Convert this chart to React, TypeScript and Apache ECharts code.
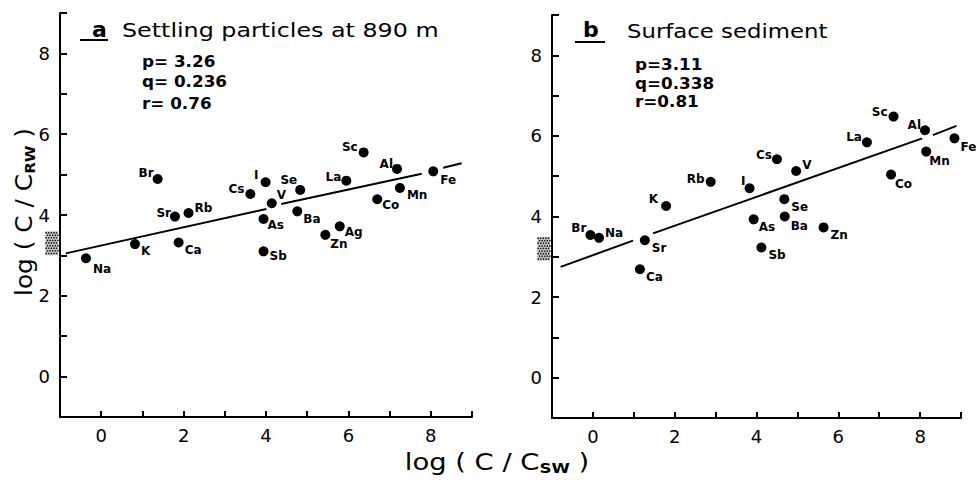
import React, { useEffect, useRef } from "react";
import * as echarts from "echarts";

// Panel a: settling particles at 890 m
const elementsA = ["Na", "K", "Ca", "Sr", "Rb", "Br", "Cs", "I", "V", "Se", "As", "Ba", "Sb", "Zn", "Ag", "La", "Sc", "Al", "Fe", "Mn", "Co"];
const xA = [-0.37, 0.82, 1.88, 1.79, 2.12, 1.37, 3.62, 3.99, 4.14, 4.83, 3.94, 4.76, 3.94, 5.44, 5.79, 5.95, 6.37, 7.18, 8.06, 7.25, 6.7];
const yA = [2.93, 3.28, 3.32, 3.96, 4.05, 4.89, 4.52, 4.81, 4.29, 4.62, 3.9, 4.09, 3.1, 3.51, 3.72, 4.85, 5.55, 5.14, 5.08, 4.67, 4.39];
const lineA: number[][][] = [
  [[-0.86, 3.05], [4.01, 4.15]],
  [[4.37, 4.27], [7.78, 5.02]],
  [[8.3, 5.17], [8.75, 5.28]],
];
const rangeA = [3.0, 3.6];
const statsA = ["p= 3.26", "q= 0.236", "r= 0.76"];

// Panel b: surface sediment
const elementsB = ["Br", "Na", "Sr", "Ca", "K", "Rb", "I", "Cs", "V", "As", "Se", "Ba", "Sb", "Zn", "La", "Sc", "Al", "Fe", "Mn", "Co"];
const xB = [-0.06, 0.15, 1.27, 1.15, 1.79, 2.88, 3.83, 4.5, 4.97, 3.93, 4.68, 4.69, 4.12, 5.64, 6.7, 7.35, 8.12, 8.84, 8.15, 7.29];
const yB = [3.54, 3.47, 3.41, 2.69, 4.26, 4.86, 4.7, 5.42, 5.13, 3.93, 4.43, 4.0, 3.23, 3.73, 5.84, 6.48, 6.14, 5.94, 5.61, 5.04];
const lineB: number[][][] = [
  [[-0.79, 2.75], [0.98, 3.4]],
  [[1.47, 3.58], [8.05, 5.94]],
  [[8.31, 6.02], [8.89, 6.25]],
];
const rangeB = [2.9, 3.5];
const statsB = ["p=3.11", "q=0.338", "r=0.81"];

const xTicks = [0, 2, 4, 6, 8];
const yTicks = [0, 2, 4, 6, 8];

// label placement (style): dx, dy from point centre, side
type LP = [number, number, "L" | "R"];
const labelPosA: Record<string, LP> = {
  Na: [7, 11, "L"], K: [6, 7, "L"], Ca: [6, 8, "L"], Sr: [-4, -4, "R"], Rb: [6, -5, "L"],
  Br: [-4, -6, "R"], Cs: [-6, -5, "R"], I: [-7, -7, "R"], V: [5, -8, "L"], Se: [-3, -10, "R"],
  As: [4, 6, "L"], Ba: [6, 8, "L"], Sb: [6, 5, "L"], Zn: [5, 9, "L"], Ag: [5, 6, "L"],
  La: [-5, -4, "R"], Sc: [-6, -5, "R"], Al: [-4, -5, "R"], Fe: [7, 9, "L"], Mn: [7, 7, "L"], Co: [5, 6, "L"],
};
const labelPosB: Record<string, LP> = {
  Sc: [-6, -5, "R"], Al: [-4, -5, "R"], La: [-5, -5, "R"], Fe: [6, 9, "L"], Mn: [3, 9, "L"],
  Cs: [-5, -4, "R"], V: [6, -6, "L"], Co: [4, 9, "L"], Rb: [-6, -3, "R"], I: [-4, -7, "R"],
  K: [-8, -7, "R"], Se: [7, 8, "L"], As: [5, 8, "L"], Ba: [6, 9, "L"], Zn: [7, 8, "L"],
  Sb: [7, 7, "L"], Br: [-4, -7, "R"], Na: [6, -5, "L"], Sr: [7, 8, "L"], Ca: [6, 8, "L"],
};

const FONT = "DejaVu Sans";
const SYM = 10;

function scatterData(names: string[], xs: number[], ys: number[], pos: Record<string, LP>) {
  return names.map((n, i) => {
    const p = pos[n] || [6, 6, "L"];
    return {
      name: n,
      value: [xs[i], ys[i]],
      label: {
        show: true,
        formatter: "{b}",
        position: [SYM / 2 + p[0], SYM / 2 + p[1]],
        align: p[2] === "L" ? "left" : "right",
        verticalAlign: "middle",
        color: "#000",
        fontFamily: FONT,
        fontWeight: "bold",
        fontSize: 12,
      },
    };
  });
}

function stipple(params: any, api: any) {
  const top = api.coord([-1, api.value(1)]);
  const bot = api.coord([-1, api.value(0)]);
  const w = 13;
  const x0 = top[0] - w - 2;
  const y0 = top[1];
  const h = bot[1] - top[1];
  const children: any[] = [
    { type: "rect", shape: { x: x0, y: y0, width: w, height: h }, style: { fill: "#cfcfcf" } },
  ];
  let row = 0;
  for (let yy = y0 + 1.5; yy < y0 + h; yy += 2.6) {
    for (let xx = x0 + 1.2 + (row % 2) * 1.3; xx < x0 + w; xx += 2.6) {
      children.push({ type: "circle", shape: { cx: xx, cy: yy, r: 0.85 }, style: { fill: "#222" } });
    }
    row++;
  }
  return { type: "group", children };
}

function axisX(i: number) {
  return {
    type: "value",
    gridIndex: i,
    min: -1,
    max: 9,
    interval: 1,
    axisLine: { onZero: false, lineStyle: { color: "#000", width: 2 } },
    axisTick: { inside: true, length: 6, lineStyle: { color: "#000", width: 2 } },
    axisLabel: {
      formatter: (v: number) => (xTicks.indexOf(v) >= 0 ? String(v) : ""),
      color: "#000",
      fontSize: 18,
      fontFamily: FONT,
      margin: 9,
    },
    splitLine: { show: false },
  };
}

function axisY(i: number) {
  return {
    type: "value",
    gridIndex: i,
    min: -1,
    max: 9,
    interval: 1,
    axisLine: { onZero: false, lineStyle: { color: "#000", width: 2 } },
    axisTick: { inside: true, length: 7, lineStyle: { color: "#000", width: 2 } },
    axisLabel: {
      formatter: (v: number) => (yTicks.indexOf(v) >= 0 ? String(v) : ""),
      color: "#000",
      fontSize: 18,
      fontFamily: FONT,
      margin: 10,
    },
    splitLine: { show: false },
  };
}

function lineSeries(segs: number[][][], idx: number) {
  return segs.map((s) => ({
    type: "line",
    xAxisIndex: idx,
    yAxisIndex: idx,
    data: s,
    symbol: "none",
    silent: true,
    lineStyle: { color: "#000", width: 2 },
    z: 1,
  }));
}

function statText(lines: string[], x: number, ys: number[]) {
  return lines.map((t, i) => ({
    type: "text",
    x,
    y: ys[i],
    scaleX: 1.12,
    style: { text: t, font: `600 15px '${FONT}'`, fill: "#000", verticalAlign: "middle" },
  }));
}

const option: any = {
  animation: false,
  backgroundColor: "#fff",
  textStyle: { fontFamily: FONT },
  grid: [
    { left: 60, top: 13, width: 412, height: 404 },
    { left: 552, top: 15, width: 409, height: 403 },
  ],
  xAxis: [axisX(0), axisX(1)],
  yAxis: [axisY(0), axisY(1)],
  series: [
    {
      type: "scatter",
      xAxisIndex: 0,
      yAxisIndex: 0,
      symbolSize: SYM,
      itemStyle: { color: "#000", opacity: 1 },
      data: scatterData(elementsA, xA, yA, labelPosA),
      z: 3,
    },
    {
      type: "scatter",
      xAxisIndex: 1,
      yAxisIndex: 1,
      symbolSize: SYM,
      itemStyle: { color: "#000", opacity: 1 },
      data: scatterData(elementsB, xB, yB, labelPosB),
      z: 3,
    },
    ...lineSeries(lineA, 0),
    ...lineSeries(lineB, 1),
    { type: "custom", xAxisIndex: 0, yAxisIndex: 0, clip: false, silent: true, renderItem: stipple, data: [rangeA] },
    { type: "custom", xAxisIndex: 1, yAxisIndex: 1, clip: false, silent: true, renderItem: stipple, data: [rangeB] },
  ],
  graphic: [
    { type: "text", x: 92, y: 29, style: { text: "a", font: `600 22px '${FONT}'`, fill: "#000", verticalAlign: "middle" } },
    { type: "line", shape: { x1: 80, y1: 40, x2: 108, y2: 40 }, style: { stroke: "#000", lineWidth: 2 } },
    { type: "text", x: 122, y: 30, scaleX: 1.19, style: { text: "Settling particles at 890 m", font: `20px '${FONT}'`, fill: "#000", verticalAlign: "middle" } },
    ...statText(statsA, 142, [62, 82, 104]),
    { type: "text", x: 583, y: 29, style: { text: "b", font: `600 22px '${FONT}'`, fill: "#000", verticalAlign: "middle" } },
    { type: "line", shape: { x1: 575, y1: 42, x2: 605, y2: 42 }, style: { stroke: "#000", lineWidth: 2 } },
    { type: "text", x: 627, y: 31, scaleX: 1.14, style: { text: "Surface sediment", font: `20px '${FONT}'`, fill: "#000", verticalAlign: "middle" } },
    ...statText(statsB, 635, [65, 84, 102]),
    {
      type: "text",
      x: 497,
      y: 462,
      scaleX: 1.19,
      style: {
        text: "{m|log ( C / C}{s|SW}{m| )}",
        align: "center",
        verticalAlign: "middle",
        rich: {
          m: { fontSize: 23, fontFamily: FONT, color: "#000" },
          s: { fontSize: 14, fontFamily: FONT, fontWeight: "bold", color: "#000", padding: [12, 0, 0, 0] },
        },
      },
    },
    {
      type: "text",
      x: 24,
      y: 212,
      rotation: Math.PI / 2,
      scaleX: 1.08,
      style: {
        text: "{m|log ( C / C}{s|RW}{m| )}",
        align: "center",
        verticalAlign: "middle",
        rich: {
          m: { fontSize: 23, fontFamily: FONT, color: "#000" },
          s: { fontSize: 14, fontFamily: FONT, fontWeight: "bold", color: "#000", padding: [12, 0, 0, 0] },
        },
      },
    },
  ],
};

export default function App() {
  const ref = useRef<HTMLDivElement>(null);
  useEffect(() => {
    document.body.style.margin = "0";
    const chart = echarts.init(ref.current!, null, { renderer: "svg" });
    chart.setOption(option);
    return () => chart.dispose();
  }, []);
  return <div ref={ref} style={{ width: 976, height: 484 }} />;
}
